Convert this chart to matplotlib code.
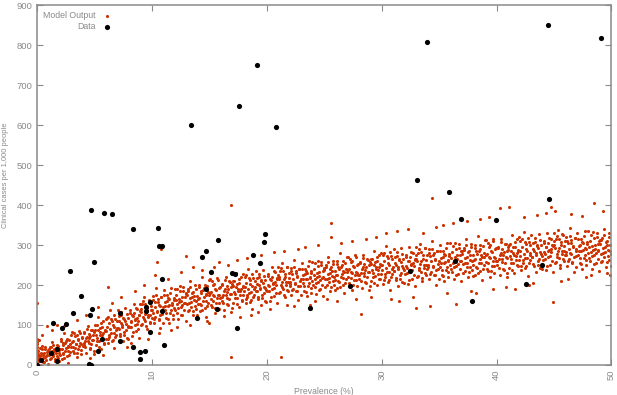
import matplotlib
matplotlib.use("Agg")
import matplotlib.pyplot as plt

plt.rcParams['font.family'] = ['Liberation Sans', 'DejaVu Sans']

# observed data (prevalence %, clinical cases per 1000)
data_x = [0.0, 0.37, 1.21, 1.7, 1.76, 1.41, 2.14, 2.51, 2.86, 3.15, 3.81, 4.53, 4.68,
          4.62, 4.82, 4.97, 4.74, 5.29, 5.66, 5.86, 6.56, 7.22, 7.25, 8.35, 8.38, 8.95,
          8.98, 9.36, 9.45, 9.45, 9.8, 9.85, 10.57, 10.66, 10.86, 10.89, 10.89, 11.06,
          13.43, 13.95, 14.36, 14.7, 14.7, 15.16, 15.68, 15.77, 17.0, 17.2, 17.42, 17.6,
          18.8, 19.15, 19.38, 19.78, 19.84, 20.8, 23.77, 27.27, 32.44, 33.1, 33.94, 35.9,
          36.4, 36.9, 37.84, 39.95, 42.6, 43.96, 44.5, 44.57, 49.07]
data_y = [0, 13, 31, 10, 39, 106, 93, 102, 235, 130, 173, 2, 1,
          124, 141, 257, 388, 34, 65, 381, 377, 60, 131, 45, 340, 33,
          14, 34, 146, 135, 83, 157, 342, 297, 298, 214, 135, 49,
          600, 118, 271, 286, 191, 232, 140, 312, 229, 228, 92, 647,
          275, 750, 256, 307, 327, 595, 142, 198, 234, 462, 809, 433,
          261, 364, 159, 362, 202, 250, 851, 415, 819]

# model output cloud (prevalence %, clinical cases per 1000), read slice by slice
model_pts = [
    (0, 5), (0, 12), (0, 18), (0, 25), (0, 31), (0, 38), (0, 44), (0, 52), (0, 58), (0, 64), (0, 155),
    (0.05, 14), (0.12, 35), (0.2, 22), (0.27, 1), (0.34, 29), (0.41, 47), (0.49, 17), (0.56, 26),
    (0.63, 7), (0.71, 40), (0.78, 23), (0.86, 32), (0.93, 3), (0.97, 37), (0.45, 75), (0.85, 98), (0.15, 62),
    (1.03, 39), (1.1, 16), (1.18, 46), (1.25, 27), (1.32, 57), (1.4, 22), (1.47, 35), (1.55, 10),
    (1.62, 42), (1.69, 31), (1.76, 51), (1.84, 18), (1.91, 37), (1.98, 25), (1.3, 88), (1.7, 100),
    (2.01, 39), (2.08, 66), (2.15, 15), (2.23, 54), (2.3, 27), (2.37, 81), (2.45, 36), (2.52, 60),
    (2.6, 22), (2.67, 48), (2.74, 6), (2.82, 63), (2.89, 32), (2.95, 45), (2.35, 98),
    (3.04, 83), (3.11, 45), (3.17, 59), (3.24, 30), (3.31, 72), (3.39, 52), (3.46, 20), (3.53, 65),
    (3.6, 39), (3.68, 86), (3.75, 54), (3.81, 27), (3.88, 67), (3.96, 48), (3.5, 112),
    (4.05, 49), (4.12, 79), (4.2, 60), (4.27, 30), (4.34, 71), (4.41, 97), (4.49, 54), (4.56, 67),
    (4.63, 39), (4.71, 87), (4.78, 63), (4.86, 75), (4.93, 27), (4.97, 83), (4.3, 125), (4.6, 18),
    (5.03, 88), (5.1, 49), (5.18, 101), (5.25, 68), (5.32, 120), (5.4, 60), (5.47, 82), (5.55, 39),
    (5.62, 95), (5.69, 75), (5.76, 110), (5.84, 53), (5.91, 86), (5.98, 66), (5.35, 145), (5.7, 25),
    (6.01, 85), (6.08, 118), (6.15, 55), (6.23, 104), (6.3, 69), (6.37, 137), (6.45, 80), (6.52, 111),
    (6.6, 63), (6.67, 96), (6.74, 42), (6.82, 116), (6.89, 76), (6.95, 93), (6.2, 195), (6.5, 155),
    (7.04, 138), (7.11, 91), (7.17, 109), (7.24, 72), (7.31, 125), (7.39, 99), (7.46, 59), (7.53, 115),
    (7.6, 83), (7.68, 142), (7.75, 102), (7.81, 68), (7.88, 118), (7.96, 94), (7.3, 170), (7.8, 45),
    (8.06, 95), (8.13, 131), (8.21, 108), (8.28, 72), (8.35, 122), (8.42, 152), (8.5, 101), (8.57, 116),
    (8.64, 84), (8.72, 141), (8.79, 111), (8.87, 126), (8.92, 68), (8.98, 135), (8.5, 185), (8.2, 55),
    (9.02, 139), (9.09, 100), (9.17, 152), (9.24, 119), (9.31, 171), (9.39, 111), (9.46, 133), (9.54, 90),
    (9.61, 146), (9.68, 126), (9.75, 161), (9.83, 104), (9.9, 137), (9.97, 117), (9.3, 200), (9.7, 65),
    (10.01, 137), (10.08, 172), (10.15, 105), (10.23, 157), (10.3, 120), (10.37, 192), (10.45, 132),
    (10.52, 164), (10.6, 114), (10.67, 148), (10.74, 92), (10.82, 169), (10.89, 127), (10.95, 145),
    (10.4, 258), (10.8, 290), (10.3, 225), (10.6, 80),
    (11.04, 188), (11.11, 138), (11.17, 157), (11.24, 118), (11.31, 174), (11.39, 147), (11.46, 105),
    (11.53, 164), (11.6, 130), (11.68, 192), (11.75, 150), (11.81, 114), (11.88, 167), (11.96, 142),
    (11.4, 215), (11.7, 88),
    (12.05, 138), (12.12, 176), (12.2, 152), (12.27, 114), (12.34, 166), (12.41, 198), (12.49, 144),
    (12.56, 160), (12.63, 126), (12.71, 186), (12.78, 155), (12.86, 171), (12.93, 110), (12.97, 180),
    (12.5, 232), (12.2, 95),
    (13.03, 176), (13.1, 134), (13.18, 189), (13.25, 155), (13.32, 209), (13.4, 146), (13.47, 169),
    (13.55, 124), (13.62, 183), (13.69, 162), (13.76, 199), (13.84, 139), (13.91, 173), (13.98, 152),
    (13.0, 272), (13.6, 245), (13.3, 100),
    (14.02, 166), (14.09, 201), (14.16, 134), (14.24, 186), (14.31, 149), (14.38, 221), (14.46, 161),
    (14.53, 193), (14.61, 143), (14.68, 177), (14.75, 121), (14.83, 198), (14.9, 156), (14.96, 174),
    (14.4, 238), (14.8, 110),
    (15.04, 214), (15.11, 164), (15.17, 183), (15.24, 144), (15.31, 200), (15.39, 173), (15.46, 131),
    (15.53, 190), (15.6, 156), (15.68, 218), (15.75, 176), (15.81, 140), (15.88, 193), (15.96, 168),
    (15.8, 257), (15.0, 105), (15.4, 245),
    (16.06, 161), (16.13, 199), (16.21, 175), (16.28, 137), (16.35, 189), (16.42, 221), (16.5, 167),
    (16.57, 183), (16.64, 149), (16.72, 209), (16.79, 178), (16.87, 194), (16.92, 133), (16.98, 203),
    (16.9, 401), (16.9, 20), (16.3, 122), (16.6, 250),
    (17.02, 198), (17.09, 156), (17.17, 211), (17.24, 177), (17.31, 231), (17.39, 168), (17.46, 191),
    (17.54, 146), (17.61, 205), (17.68, 184), (17.75, 221), (17.83, 161), (17.9, 195), (17.97, 174),
    (17.4, 262), (17.7, 120),
    (18.01, 186), (18.08, 221), (18.15, 154), (18.23, 206), (18.3, 169), (18.37, 241), (18.45, 181),
    (18.52, 213), (18.6, 163), (18.67, 197), (18.74, 141), (18.82, 218), (18.89, 176), (18.95, 194),
    (18.3, 268), (18.6, 125),
    (19.04, 234), (19.11, 184), (19.17, 203), (19.24, 164), (19.31, 220), (19.39, 193), (19.46, 151),
    (19.53, 210), (19.6, 176), (19.68, 238), (19.75, 196), (19.81, 160), (19.88, 213), (19.96, 188),
    (19.5, 275), (19.2, 132),
    (20.05, 184), (20.12, 222), (20.2, 198), (20.27, 160), (20.34, 212), (20.41, 244), (20.49, 190),
    (20.56, 206), (20.63, 172), (20.71, 232), (20.78, 201), (20.86, 217), (20.93, 156), (20.97, 226),
    (20.6, 282), (20.3, 140),
    (21.03, 221), (21.1, 179), (21.18, 234), (21.25, 200), (21.32, 254), (21.4, 191), (21.47, 214),
    (21.55, 169), (21.62, 228), (21.69, 207), (21.76, 244), (21.84, 184), (21.91, 218), (21.98, 197),
    (21.2, 20), (21.5, 285), (21.8, 150),
    (22.01, 208), (22.08, 243), (22.15, 176), (22.23, 228), (22.3, 191), (22.37, 263), (22.45, 203),
    (22.52, 235), (22.6, 185), (22.67, 219), (22.74, 163), (22.82, 240), (22.89, 198), (22.95, 216),
    (22.4, 147), (22.7, 290),
    (23.04, 255), (23.11, 205), (23.17, 224), (23.24, 185), (23.31, 241), (23.39, 214), (23.46, 172),
    (23.53, 231), (23.6, 197), (23.68, 259), (23.75, 217), (23.81, 181), (23.88, 234), (23.96, 209),
    (23.3, 295), (23.8, 150),
    (24.06, 201), (24.13, 239), (24.21, 215), (24.28, 177), (24.35, 229), (24.42, 261), (24.5, 207),
    (24.57, 223), (24.64, 189), (24.72, 249), (24.79, 218), (24.87, 234), (24.92, 173), (24.98, 243),
    (24.5, 300), (24.2, 160),
    (25.02, 237), (25.09, 195), (25.17, 250), (25.24, 216), (25.31, 270), (25.39, 207), (25.46, 230),
    (25.54, 185), (25.61, 244), (25.68, 223), (25.75, 260), (25.83, 200), (25.9, 234), (25.97, 213),
    (25.6, 354), (25.6, 320), (25.2, 165),
    (26.01, 224), (26.08, 259), (26.15, 192), (26.23, 244), (26.3, 207), (26.37, 279), (26.45, 219),
    (26.52, 251), (26.6, 201), (26.67, 235), (26.74, 179), (26.82, 256), (26.89, 214), (26.95, 232),
    (26.5, 305), (26.1, 160),
    (27.04, 271), (27.11, 221), (27.17, 240), (27.24, 201), (27.31, 257), (27.39, 230), (27.46, 188),
    (27.53, 247), (27.6, 213), (27.68, 275), (27.75, 233), (27.81, 197), (27.88, 250), (27.96, 225),
    (27.4, 310), (27.8, 165),
    (28.05, 216), (28.12, 254), (28.2, 230), (28.27, 192), (28.34, 244), (28.41, 276), (28.49, 222),
    (28.56, 238), (28.63, 204), (28.71, 264), (28.78, 233), (28.86, 249), (28.93, 188), (28.97, 258),
    (28.2, 128), (28.6, 315),
    (29.03, 252), (29.1, 210), (29.18, 265), (29.25, 231), (29.32, 285), (29.4, 222), (29.47, 245),
    (29.55, 200), (29.62, 259), (29.69, 238), (29.76, 275), (29.84, 215), (29.91, 249), (29.98, 228),
    (29.5, 320), (29.1, 170),
    (30.01, 238), (30.08, 276), (30.15, 202), (30.23, 260), (30.3, 219), (30.37, 298), (30.45, 232),
    (30.52, 267), (30.6, 212), (30.67, 250), (30.74, 188), (30.82, 273), (30.89, 227), (30.95, 246),
    (30.4, 330), (30.8, 165),
    (31.04, 289), (31.11, 234), (31.17, 255), (31.24, 212), (31.31, 273), (31.39, 244), (31.46, 197),
    (31.53, 262), (31.6, 225), (31.68, 293), (31.75, 247), (31.81, 207), (31.88, 266), (31.96, 238),
    (31.5, 160), (31.3, 335),
    (32.06, 228), (32.13, 270), (32.21, 243), (32.28, 202), (32.35, 259), (32.42, 294), (32.5, 235),
    (32.57, 252), (32.64, 215), (32.72, 281), (32.79, 247), (32.87, 264), (32.92, 197), (32.98, 274),
    (32.3, 340), (32.7, 170),
    (33.02, 266), (33.09, 220), (33.17, 281), (33.24, 243), (33.31, 303), (33.39, 233), (33.46, 259),
    (33.54, 209), (33.61, 274), (33.68, 251), (33.75, 292), (33.83, 226), (33.9, 263), (33.97, 240),
    (33.0, 142), (33.6, 330),
    (34.01, 251), (34.08, 289), (34.15, 215), (34.23, 273), (34.3, 232), (34.37, 311), (34.45, 245),
    (34.52, 280), (34.6, 225), (34.67, 263), (34.74, 201), (34.82, 286), (34.89, 240), (34.95, 259),
    (34.4, 417), (34.2, 147), (34.7, 345),
    (35.04, 301), (35.11, 246), (35.17, 267), (35.24, 224), (35.31, 285), (35.39, 256), (35.46, 209),
    (35.53, 274), (35.6, 237), (35.68, 305), (35.75, 259), (35.81, 219), (35.88, 278), (35.96, 250),
    (35.3, 350), (35.7, 180),
    (36.05, 240), (36.12, 282), (36.2, 255), (36.27, 214), (36.34, 271), (36.41, 306), (36.49, 247),
    (36.56, 264), (36.63, 227), (36.71, 293), (36.78, 259), (36.86, 276), (36.93, 209), (36.97, 286),
    (36.5, 152), (36.2, 355),
    (37.03, 277), (37.1, 231), (37.18, 292), (37.25, 254), (37.32, 314), (37.4, 244), (37.47, 270),
    (37.55, 220), (37.62, 285), (37.69, 262), (37.76, 303), (37.84, 237), (37.91, 274), (37.98, 251),
    (37.4, 360), (37.8, 185),
    (38.01, 262), (38.08, 300), (38.15, 226), (38.23, 284), (38.3, 243), (38.37, 322), (38.45, 256),
    (38.52, 291), (38.6, 236), (38.67, 274), (38.74, 212), (38.82, 297), (38.89, 251), (38.95, 270),
    (38.6, 365), (38.2, 180),
    (39.04, 312), (39.11, 257), (39.17, 278), (39.24, 235), (39.31, 296), (39.39, 267), (39.46, 220),
    (39.53, 285), (39.6, 248), (39.68, 316), (39.75, 270), (39.81, 230), (39.88, 289), (39.96, 261),
    (39.3, 370), (39.7, 190),
    (40.06, 250), (40.13, 292), (40.21, 265), (40.28, 224), (40.35, 281), (40.42, 316), (40.5, 257),
    (40.57, 274), (40.64, 237), (40.72, 303), (40.79, 269), (40.87, 286), (40.92, 219), (40.98, 296),
    (40.3, 392), (40.8, 195),
    (41.02, 288), (41.09, 242), (41.17, 303), (41.24, 265), (41.31, 325), (41.39, 255), (41.46, 281),
    (41.54, 231), (41.61, 296), (41.68, 273), (41.75, 314), (41.83, 248), (41.9, 285), (41.97, 262),
    (41.1, 396), (41.6, 190),
    (42.01, 273), (42.08, 311), (42.15, 237), (42.23, 295), (42.3, 254), (42.37, 333), (42.45, 267),
    (42.52, 302), (42.6, 247), (42.67, 285), (42.74, 223), (42.82, 308), (42.89, 262), (42.95, 281),
    (42.4, 370), (42.8, 200),
    (43.04, 324), (43.11, 269), (43.17, 290), (43.24, 247), (43.31, 308), (43.39, 279), (43.46, 232),
    (43.53, 297), (43.6, 260), (43.68, 328), (43.75, 282), (43.81, 242), (43.88, 301), (43.96, 273),
    (43.5, 375), (43.2, 205),
    (44.05, 263), (44.12, 305), (44.2, 278), (44.27, 237), (44.34, 294), (44.41, 329), (44.49, 270),
    (44.56, 287), (44.63, 250), (44.71, 316), (44.78, 282), (44.86, 299), (44.93, 232), (44.97, 309),
    (44.7, 395), (44.9, 157), (44.3, 380),
    (45.03, 300), (45.1, 254), (45.18, 315), (45.25, 277), (45.32, 337), (45.4, 267), (45.47, 293),
    (45.55, 243), (45.62, 308), (45.69, 285), (45.76, 326), (45.84, 260), (45.91, 297), (45.98, 274),
    (45.1, 385), (45.6, 210),
    (46.01, 283), (46.08, 321), (46.15, 247), (46.23, 305), (46.3, 264), (46.37, 343), (46.45, 277),
    (46.52, 312), (46.6, 257), (46.67, 295), (46.74, 233), (46.82, 318), (46.89, 272), (46.95, 291),
    (46.5, 378), (46.2, 215),
    (47.04, 331), (47.11, 276), (47.17, 297), (47.24, 254), (47.31, 315), (47.39, 286), (47.46, 239),
    (47.53, 304), (47.6, 267), (47.68, 335), (47.75, 289), (47.81, 249), (47.88, 308), (47.96, 280),
    (47.4, 372), (47.8, 220),
    (48.06, 267), (48.13, 309), (48.21, 282), (48.28, 241), (48.35, 298), (48.42, 333), (48.5, 274),
    (48.57, 291), (48.64, 254), (48.72, 320), (48.79, 286), (48.87, 303), (48.92, 236), (48.98, 313),
    (48.5, 406), (48.2, 225),
    (49.02, 303), (49.09, 257), (49.17, 318), (49.24, 280), (49.31, 340), (49.39, 270), (49.46, 296),
    (49.54, 246), (49.61, 311), (49.68, 288), (49.75, 329), (49.83, 263), (49.9, 300), (49.97, 277),
    (49.3, 385), (49.9, 225), (49.6, 230),
]

# second pass over the same cloud, filling the gaps between the first set of points
model_pts_2 = [
    (0.07, 28), (0.16, 10), (0.22, 43), (0.29, 17), (0.36, 24), (0.44, 39), (0.51, 7), (0.58, 31), (0.66, 20), (0.73, 45), (0.8, 13), (0.87, 24), (0.94, 36),
    (1.06, 26), (1.13, 44), (1.21, 18), (1.29, 34), (1.35, 50), (1.43, 28), (1.5, 41), (1.58, 16), (1.65, 37), (1.72, 23), (1.8, 47), (1.88, 30), (1.95, 11),
    (2.09, 61), (2.14, 41), (2.22, 29), (2.3, 51), (2.37, 17), (2.44, 56), (2.52, 42), (2.59, 66), (2.67, 34), (2.74, 46), (2.81, 25), (2.89, 52), (2.97, 74),
    (3.07, 58), (3.16, 34), (3.22, 79), (3.29, 43), (3.36, 53), (3.44, 74), (3.51, 29), (3.58, 62), (3.66, 47), (3.73, 81), (3.8, 38), (3.87, 52), (3.94, 69),
    (4.06, 56), (4.13, 82), (4.21, 44), (4.29, 67), (4.35, 91), (4.43, 59), (4.5, 78), (4.58, 42), (4.65, 72), (4.72, 52), (4.8, 87), (4.88, 62), (4.95, 35),
    (5.09, 100), (5.14, 74), (5.22, 59), (5.3, 87), (5.37, 45), (5.44, 93), (5.52, 76), (5.59, 106), (5.67, 66), (5.74, 81), (5.81, 54), (5.89, 88), (5.97, 116),
    (6.07, 95), (6.16, 64), (6.22, 121), (6.29, 76), (6.36, 89), (6.44, 115), (6.51, 59), (6.58, 100), (6.66, 81), (6.73, 124), (6.8, 70), (6.87, 88), (6.94, 109),
    (7.06, 92), (7.13, 122), (7.21, 77), (7.29, 105), (7.35, 132), (7.43, 95), (7.5, 117), (7.58, 74), (7.65, 111), (7.72, 87), (7.8, 128), (7.88, 98), (7.95, 66),
    (8.09, 137), (8.14, 111), (8.22, 96), (8.3, 124), (8.37, 82), (8.44, 130), (8.52, 113), (8.59, 143), (8.67, 103), (8.74, 118), (8.81, 91), (8.89, 125), (8.97, 153),
    (9.07, 133), (9.16, 102), (9.22, 159), (9.29, 114), (9.36, 127), (9.44, 153), (9.51, 97), (9.58, 138), (9.66, 119), (9.73, 162), (9.8, 108), (9.87, 126), (9.94, 147),
    (10.06, 131), (10.13, 163), (10.21, 116), (10.29, 145), (10.35, 174), (10.43, 135), (10.5, 158), (10.58, 113), (10.65, 151), (10.72, 126), (10.8, 169), (10.88, 138), (10.95, 104),
    (11.09, 174), (11.14, 147), (11.22, 131), (11.3, 160), (11.37, 116), (11.44, 167), (11.52, 149), (11.59, 180), (11.67, 138), (11.74, 154), (11.81, 126), (11.89, 162), (11.97, 191),
    (12.07, 163), (12.16, 131), (12.22, 191), (12.29, 143), (12.36, 157), (12.44, 184), (12.51, 125), (12.58, 169), (12.66, 149), (12.73, 194), (12.8, 137), (12.87, 156), (12.94, 178),
    (13.06, 153), (13.13, 185), (13.21, 138), (13.29, 167), (13.35, 196), (13.43, 157), (13.5, 180), (13.58, 135), (13.65, 173), (13.72, 148), (13.8, 191), (13.88, 160), (13.95, 126),
    (14.09, 195), (14.14, 168), (14.22, 152), (14.3, 181), (14.37, 137), (14.44, 188), (14.52, 170), (14.59, 201), (14.67, 159), (14.74, 175), (14.81, 147), (14.89, 183), (14.97, 212),
    (15.07, 181), (15.16, 149), (15.22, 209), (15.29, 161), (15.36, 175), (15.44, 202), (15.51, 143), (15.58, 187), (15.66, 167), (15.73, 212), (15.8, 155), (15.87, 174), (15.94, 196),
    (16.06, 170), (16.13, 202), (16.21, 155), (16.29, 184), (16.35, 213), (16.43, 174), (16.5, 197), (16.58, 152), (16.65, 190), (16.72, 165), (16.8, 208), (16.88, 177), (16.95, 143),
    (17.09, 210), (17.14, 183), (17.22, 167), (17.3, 196), (17.37, 152), (17.44, 203), (17.52, 185), (17.59, 216), (17.67, 174), (17.74, 190), (17.81, 162), (17.89, 198), (17.97, 227),
    (18.07, 196), (18.16, 164), (18.22, 224), (18.29, 176), (18.36, 190), (18.44, 217), (18.51, 158), (18.58, 202), (18.66, 182), (18.73, 227), (18.8, 170), (18.87, 189), (18.94, 211),
    (19.06, 185), (19.13, 217), (19.21, 170), (19.29, 199), (19.35, 228), (19.43, 189), (19.5, 212), (19.58, 167), (19.65, 205), (19.72, 180), (19.8, 223), (19.88, 192), (19.95, 158),
    (20.09, 228), (20.14, 201), (20.22, 185), (20.3, 214), (20.37, 170), (20.44, 221), (20.52, 203), (20.59, 234), (20.67, 192), (20.74, 208), (20.81, 180), (20.89, 216), (20.97, 245),
    (21.07, 214), (21.16, 182), (21.22, 242), (21.29, 194), (21.36, 208), (21.44, 235), (21.51, 176), (21.58, 220), (21.66, 200), (21.73, 245), (21.8, 188), (21.87, 207), (21.94, 229),
    (22.06, 202), (22.13, 234), (22.21, 187), (22.29, 216), (22.35, 245), (22.43, 206), (22.5, 229), (22.58, 184), (22.65, 222), (22.72, 197), (22.8, 240), (22.88, 209), (22.95, 175),
    (23.09, 241), (23.14, 214), (23.22, 198), (23.3, 227), (23.37, 183), (23.44, 234), (23.52, 216), (23.59, 247), (23.67, 205), (23.74, 221), (23.81, 193), (23.89, 229), (23.97, 258),
    (24.07, 226), (24.16, 194), (24.22, 254), (24.29, 206), (24.36, 220), (24.44, 247), (24.51, 188), (24.58, 232), (24.66, 212), (24.73, 257), (24.8, 200), (24.87, 219), (24.94, 241),
    (25.06, 214), (25.13, 246), (25.21, 199), (25.29, 228), (25.35, 257), (25.43, 218), (25.5, 241), (25.58, 196), (25.65, 234), (25.72, 209), (25.8, 252), (25.88, 221), (25.95, 187),
    (26.09, 253), (26.14, 226), (26.22, 210), (26.3, 239), (26.37, 195), (26.44, 246), (26.52, 228), (26.59, 259), (26.67, 217), (26.74, 233), (26.81, 205), (26.89, 241), (26.97, 270),
    (27.07, 238), (27.16, 206), (27.22, 266), (27.29, 218), (27.36, 232), (27.44, 259), (27.51, 200), (27.58, 244), (27.66, 224), (27.73, 269), (27.8, 212), (27.87, 231), (27.94, 253),
    (28.06, 225), (28.13, 257), (28.21, 210), (28.29, 239), (28.35, 268), (28.43, 229), (28.5, 252), (28.58, 207), (28.65, 245), (28.72, 220), (28.8, 263), (28.88, 232), (28.95, 198),
    (29.09, 264), (29.14, 237), (29.22, 221), (29.3, 250), (29.37, 206), (29.44, 257), (29.52, 239), (29.59, 270), (29.67, 228), (29.74, 244), (29.81, 216), (29.89, 252), (29.97, 281),
    (30.07, 249), (30.16, 213), (30.22, 279), (30.29, 227), (30.36, 242), (30.44, 272), (30.51, 207), (30.58, 255), (30.66, 233), (30.73, 283), (30.8, 220), (30.87, 241), (30.94, 265),
    (31.06, 235), (31.13, 270), (31.21, 218), (31.29, 250), (31.35, 282), (31.43, 239), (31.5, 265), (31.58, 215), (31.65, 257), (31.72, 229), (31.8, 277), (31.88, 243), (31.95, 205),
    (32.09, 276), (32.14, 247), (32.22, 229), (32.3, 261), (32.37, 213), (32.44, 269), (32.52, 249), (32.59, 283), (32.67, 237), (32.74, 254), (32.81, 224), (32.89, 263), (32.97, 295),
    (33.07, 259), (33.16, 223), (33.22, 289), (33.29, 237), (33.36, 252), (33.44, 282), (33.51, 217), (33.58, 265), (33.66, 243), (33.73, 293), (33.8, 230), (33.87, 251), (33.94, 275),
    (34.06, 244), (34.13, 279), (34.21, 227), (34.29, 259), (34.35, 291), (34.43, 248), (34.5, 274), (34.58, 224), (34.65, 266), (34.72, 238), (34.8, 286), (34.88, 252), (34.95, 214),
    (35.09, 285), (35.14, 256), (35.22, 238), (35.3, 270), (35.37, 222), (35.44, 278), (35.52, 258), (35.59, 292), (35.67, 246), (35.74, 263), (35.81, 233), (35.89, 272), (35.97, 304),
    (36.07, 268), (36.16, 232), (36.22, 298), (36.29, 246), (36.36, 261), (36.44, 291), (36.51, 226), (36.58, 274), (36.66, 252), (36.73, 302), (36.8, 239), (36.87, 260), (36.94, 284),
    (37.06, 252), (37.13, 287), (37.21, 235), (37.29, 267), (37.35, 299), (37.43, 256), (37.5, 282), (37.58, 232), (37.65, 274), (37.72, 246), (37.8, 294), (37.88, 260), (37.95, 222),
    (38.09, 293), (38.14, 264), (38.22, 246), (38.3, 278), (38.37, 230), (38.44, 286), (38.52, 266), (38.59, 300), (38.67, 254), (38.74, 271), (38.81, 241), (38.89, 280), (38.97, 312),
    (39.07, 276), (39.16, 240), (39.22, 306), (39.29, 254), (39.36, 269), (39.44, 299), (39.51, 234), (39.58, 282), (39.66, 260), (39.73, 310), (39.8, 247), (39.87, 268), (39.94, 292),
    (40.06, 260), (40.13, 295), (40.21, 243), (40.29, 275), (40.35, 307), (40.43, 264), (40.5, 290), (40.58, 240), (40.65, 282), (40.72, 254), (40.8, 302), (40.88, 268), (40.95, 230),
    (41.09, 301), (41.14, 272), (41.22, 254), (41.3, 286), (41.37, 238), (41.44, 294), (41.52, 274), (41.59, 308), (41.67, 262), (41.74, 279), (41.81, 249), (41.89, 288), (41.97, 320),
    (42.07, 284), (42.16, 248), (42.22, 314), (42.29, 262), (42.36, 277), (42.44, 307), (42.51, 242), (42.58, 290), (42.66, 268), (42.73, 318), (42.8, 255), (42.87, 276), (42.94, 300),
    (43.06, 270), (43.13, 305), (43.21, 253), (43.29, 285), (43.35, 317), (43.43, 274), (43.5, 300), (43.58, 250), (43.65, 292), (43.72, 264), (43.8, 312), (43.88, 278), (43.95, 240),
    (44.09, 311), (44.14, 282), (44.22, 264), (44.3, 296), (44.37, 248), (44.44, 304), (44.52, 284), (44.59, 318), (44.67, 272), (44.74, 289), (44.81, 259), (44.89, 298), (44.97, 330),
    (45.07, 293), (45.16, 257), (45.22, 323), (45.29, 271), (45.36, 286), (45.44, 316), (45.51, 251), (45.58, 299), (45.66, 277), (45.73, 327), (45.8, 264), (45.87, 285), (45.94, 309),
    (46.06, 276), (46.13, 311), (46.21, 259), (46.29, 291), (46.35, 323), (46.43, 280), (46.5, 306), (46.58, 256), (46.65, 298), (46.72, 270), (46.8, 318), (46.88, 284), (46.95, 246),
    (47.09, 315), (47.14, 286), (47.22, 268), (47.3, 300), (47.37, 252), (47.44, 308), (47.52, 288), (47.59, 322), (47.67, 276), (47.74, 293), (47.81, 263), (47.89, 302), (47.97, 334),
    (48.07, 295), (48.16, 259), (48.22, 325), (48.29, 273), (48.36, 288), (48.44, 318), (48.51, 253), (48.58, 301), (48.66, 279), (48.73, 329), (48.8, 266), (48.87, 287), (48.94, 311),
    (49.06, 278), (49.13, 313), (49.21, 261), (49.29, 293), (49.35, 325), (49.43, 282), (49.5, 308), (49.58, 258), (49.65, 300), (49.72, 272), (49.8, 320), (49.88, 286), (49.95, 248),
]
model_x = [p[0] for p in model_pts + model_pts_2]
model_y = [p[1] for p in model_pts + model_pts_2]

x_ticks = [0, 10, 20, 30, 40, 50]
y_ticks = [0, 100, 200, 300, 400, 500, 600, 700, 800, 900]

grey = '#8a8a8a'
red = '#cc3300'

fig = plt.figure(figsize=(6.17, 3.95), dpi=100)
ax = fig.add_axes([0.06, 0.076, 0.931, 0.911])

ax.scatter(model_x, model_y, s=5, color=red, linewidths=0, label='Model Output', zorder=2)
ax.scatter(data_x, data_y, s=14, color='black', linewidths=0, label='Data', zorder=3)

ax.set_xlim(0, 50)
ax.set_ylim(0, 900)
ax.set_xticks(x_ticks)
ax.set_yticks(y_ticks)
ax.set_xticklabels([str(t) for t in x_ticks], rotation=90)

for sp in ax.spines.values():
    sp.set_color(grey)
    sp.set_linewidth(1.1)
ax.tick_params(direction='in', top=True, right=True, length=4, width=0.8,
               color=grey, labelcolor=grey, labelsize=6.8, pad=3.5)

ax.set_xlabel('Prevalence (%)', color=grey, fontsize=6.2)
ax.set_ylabel('Clinical cases per 1,000 people', color=grey, fontsize=5.4)
ax.xaxis.set_label_coords(0.5, -0.06)
ax.yaxis.set_label_coords(-0.048, 0.528)

leg = ax.legend(loc='upper left', bbox_to_anchor=(0.0, 1.0), frameon=False, markerfirst=False,
                fontsize=6.3, handletextpad=0.8, borderpad=0.2, labelspacing=0.2,
                scatterpoints=1, handlelength=1.0)
for t in leg.get_texts():
    t.set_color(grey)

fig.savefig('out.png', dpi=100)
